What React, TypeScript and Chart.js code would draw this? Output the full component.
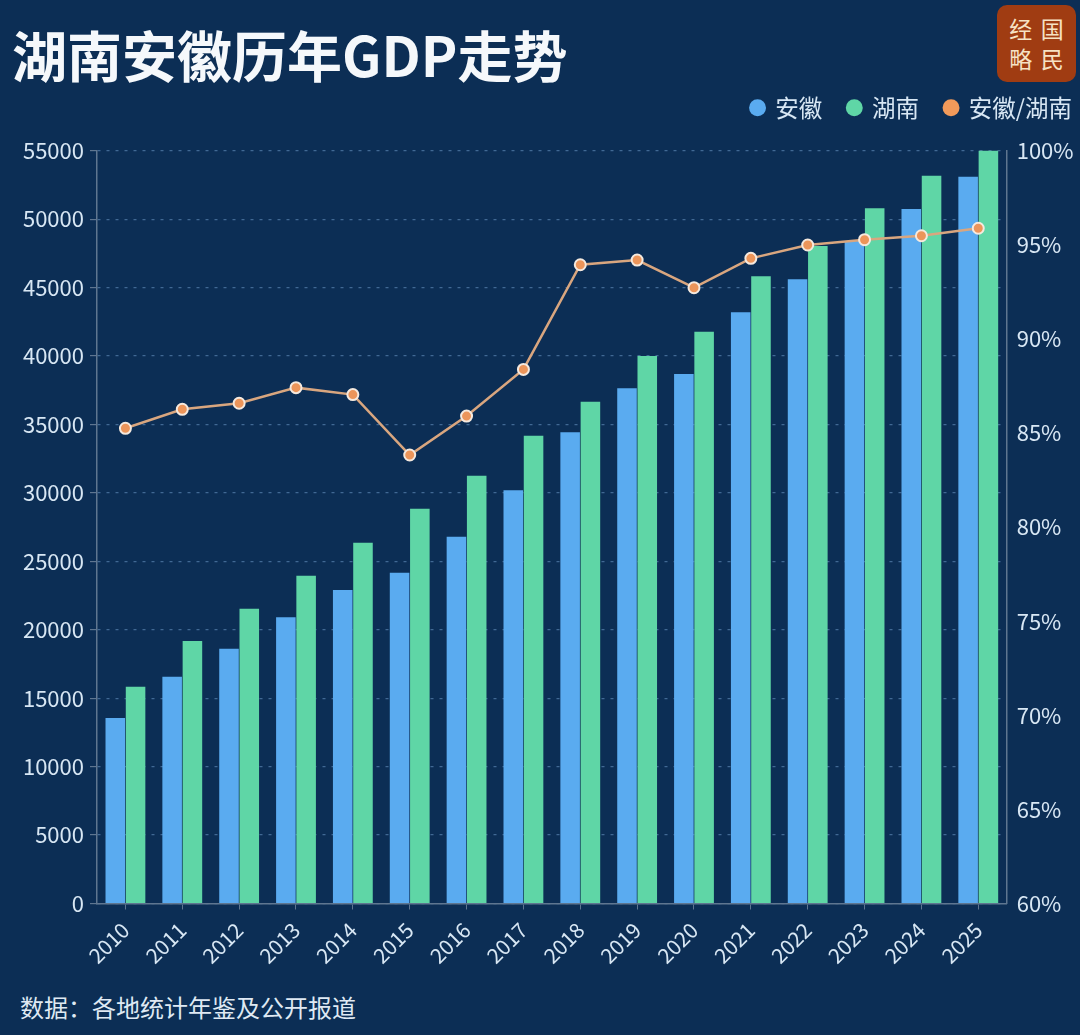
import React, { useEffect, useRef } from 'react';
import { Chart, registerables } from 'chart.js';

Chart.register(...registerables);

const years = ['2010', '2011', '2012', '2013', '2014', '2015', '2016', '2017', '2018', '2019', '2020', '2021', '2022', '2023', '2024', '2025'];
const anhuiGDP = [13550, 16570, 18620, 20910, 22900, 24170, 26800, 30190, 34430, 37640, 38690, 43190, 45600, 48400, 50740, 53100];
const hunanGDP = [15840, 19180, 21540, 23950, 26360, 28840, 31250, 34180, 36660, 40000, 41780, 45820, 48040, 50790, 53170, 55100];
const ratioPct = [85.25, 86.26, 86.58, 87.41, 87.04, 83.83, 85.9, 88.38, 93.94, 94.19, 92.72, 94.28, 94.99, 95.27, 95.48, 95.88];

const seriesNames = ['安徽', '湖南', '安徽/湖南'];
const titleText = '湖南安徽历年GDP走势';
const sourceText = '数据：各地统计年鉴及公开报道';
const logoChars = ['经', '国', '略', '民'];

const FONT = '"Noto Sans CJK SC", "Noto Sans", sans-serif';
const BG = '#0c2e55';
const TEXT = '#d8e7f4';
const AXIS = '#5f7690';
const GRID = 'rgba(110, 155, 200, 0.55)';
const BLUE = '#5aabf0';
const GREEN = '#5fd6a6';
const LINE = '#d9a67f';
const ORANGE = '#ec955a';
const LEGEND_COLORS = [BLUE, GREEN, '#f29a5a'];

const legendGap = {
  id: 'legendGap',
  afterInit(chart: any) {
    const legend = chart.legend;
    if (!legend) return;
    const origFit = legend.fit.bind(legend);
    legend.fit = function () {
      origFit();
      legend.height += 21.2;
    };
  },
};

export default function App() {
  const ref = useRef<HTMLCanvasElement>(null);

  useEffect(() => {
    const canvas = ref.current;
    if (!canvas) return;
    const chart = new Chart(canvas, {
      type: 'bar',
      data: {
        labels: years,
        datasets: [
          {
            type: 'bar',
            label: seriesNames[0],
            data: anhuiGDP,
            backgroundColor: BLUE,
            yAxisID: 'y',
            order: 2,
            categoryPercentage: 0.713,
            barPercentage: 0.965,
          },
          {
            type: 'bar',
            label: seriesNames[1],
            data: hunanGDP,
            backgroundColor: GREEN,
            yAxisID: 'y',
            order: 2,
            categoryPercentage: 0.713,
            barPercentage: 0.965,
          },
          {
            type: 'line',
            label: seriesNames[2],
            data: ratioPct,
            yAxisID: 'y1',
            order: 1,
            borderColor: LINE,
            borderWidth: 2.5,
            pointRadius: 5.5,
            pointBackgroundColor: ORANGE,
            pointBorderColor: '#f5e9de',
            pointBorderWidth: 2,
            tension: 0,
          },
        ] as any,
      },
      options: {
        animation: false,
        responsive: true,
        maintainAspectRatio: false,
        layout: { padding: 0 },
        plugins: {
          tooltip: { enabled: false },
          legend: {
            position: 'top',
            align: 'end',
            labels: {
              usePointStyle: true,
              pointStyle: 'circle',
              boxWidth: 12,
              boxHeight: 12,
              padding: 26,
              color: TEXT,
              font: { family: FONT, size: 23.5 },
              sort: (a: any, b: any) => a.datasetIndex - b.datasetIndex,
              generateLabels: (c: any) => {
                const items = (Chart.defaults.plugins.legend.labels as any).generateLabels(c);
                return items.map((it: any) => ({
                  ...it,
                  fillStyle: LEGEND_COLORS[it.datasetIndex],
                  strokeStyle: LEGEND_COLORS[it.datasetIndex],
                  lineWidth: 0,
                  pointStyle: 'circle',
                  fontColor: TEXT,
                }));
              },
            },
          },
        },
        scales: {
          x: {
            offset: true,
            grid: {
              offset: false,
              drawOnChartArea: false,
              drawTicks: true,
              tickLength: 6,
              color: AXIS,
            },
            border: { color: AXIS, width: 1.5 },
            ticks: {
              color: TEXT,
              font: { family: FONT, size: 21 },
              maxRotation: 45,
              minRotation: 45,
              autoSkip: false,
              padding: 8,
            },
            afterFit: (s: any) => {
              s.height = 71.5;
              s.paddingLeft = 0;
              s.paddingRight = 0;
            },
          },
          y: {
            position: 'left',
            min: 0,
            max: 55000,
            ticks: {
              stepSize: 5000,
              color: TEXT,
              font: { family: FONT, size: 22 },
              padding: 6,
              callback: (v: any) => String(v),
            },
            grid: {
              color: GRID,
              lineWidth: 1.2,
              tickLength: 7,
              tickColor: AXIS,
            },
            border: { color: AXIS, width: 1.5, dash: [3, 6] },
            afterFit: (s: any) => {
              s.width = 97;
              s.paddingTop = 0;
              s.paddingBottom = 0;
            },
          },
          y1: {
            position: 'right',
            min: 60,
            max: 100,
            ticks: {
              stepSize: 5,
              color: TEXT,
              font: { family: FONT, size: 22 },
              padding: 10,
              callback: (v: any) => v + '%',
            },
            grid: { drawOnChartArea: false, drawTicks: false },
            border: { color: AXIS, width: 1.5 },
            afterFit: (s: any) => {
              s.width = 91.3;
              s.paddingTop = 0;
              s.paddingBottom = 0;
            },
          },
        },
      } as any,
      plugins: [legendGap],
    });
    return () => chart.destroy();
  }, []);

  return (
    <div
      style={{
        position: 'absolute',
        left: 0,
        top: 0,
        width: 1080,
        height: 1035,
        overflow: 'hidden',
        background: BG,
        fontFamily: FONT,
      }}
    >
      <div
        style={{
          position: 'absolute',
          left: 12,
          top: 26,
          fontSize: 55,
          lineHeight: '55px',
          fontWeight: 700,
          color: '#f5f8fb',
          whiteSpace: 'nowrap',
        }}
      >
        {titleText}
      </div>
      <div
        style={{
          position: 'absolute',
          left: 997,
          top: 5,
          width: 79,
          height: 77,
          borderRadius: 10,
          background: '#a03c12',
          color: '#f6e2c4',
          display: 'grid',
          gridTemplateColumns: '1fr 1fr',
          gridTemplateRows: '1fr 1fr',
          alignItems: 'center',
          justifyItems: 'center',
          fontSize: 23,
          lineHeight: '23px',
          padding: '8px 8px',
          boxSizing: 'border-box',
        }}
      >
        {logoChars.map((ch) => (
          <span key={ch}>{ch}</span>
        ))}
      </div>
      <div style={{ position: 'absolute', left: 0, top: 70, width: 1098, height: 905 }}>
        <canvas ref={ref} />
      </div>
      <div
        style={{
          position: 'absolute',
          left: 20,
          top: 995,
          fontSize: 24,
          lineHeight: '24px',
          color: '#dfe9f3',
          whiteSpace: 'nowrap',
        }}
      >
        {sourceText}
      </div>
    </div>
  );
}
